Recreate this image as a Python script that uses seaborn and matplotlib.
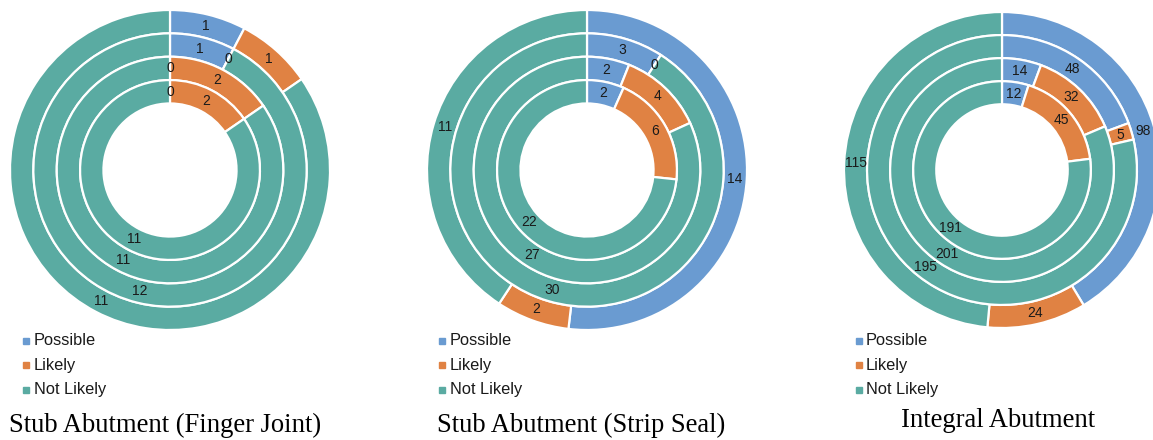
import matplotlib
matplotlib.use("Agg")
import matplotlib.pyplot as plt
from matplotlib.lines import Line2D
import numpy as np
import seaborn as sns

# Risk categories and their colours
categories = ["Possible", "Likely", "Not Likely"]
category_colors = ["#6A9BD1", "#E08243", "#5AABA2"]

# Each abutment type: four rings, outer to inner, values per category
finger_joint = [
    [1, 1, 11],
    [1, 0, 12],
    [0, 2, 11],
    [0, 2, 11],
]
strip_seal = [
    [14, 2, 11],
    [3, 0, 30],
    [2, 4, 27],
    [2, 6, 22],
]
integral = [
    [98, 24, 115],
    [48, 5, 195],
    [14, 32, 201],
    [12, 45, 191],
]

panel_titles = [
    "Stub Abutment (Finger Joint)",
    "Stub Abutment (Strip Seal)",
    "Integral Abutment",
]
panel_data = [finger_joint, strip_seal, integral]

sns.set_theme(style="white")
plt.rcParams["font.family"] = ["Liberation Sans", "DejaVu Sans"]

W, H = 1153, 440
fig = plt.figure(figsize=(W / 100, H / 100), dpi=100)
fig.patch.set_facecolor("white")

# pixel geometry of each panel: centre x, centre y (from top), outer radius
centers = [(170, 170, 160), (587, 170, 160), (1002, 170, 158)]
legend_x = [(25.5, 34), (441.5, 450), (858.5, 866)]
title_pos = [(165, 425), (581, 425), (998, 420)]

ring_width = 0.146
ring_outer = [1.0, 1.0 - ring_width, 1.0 - 2 * ring_width, 1.0 - 3 * ring_width]

for (cx, cy, r), rings, title, (mx, tx), (ttx, tty) in zip(
        centers, panel_data, panel_titles, legend_x, title_pos):
    ax = fig.add_axes([(cx - r) / W, (H - cy - r) / H, 2 * r / W, 2 * r / H])
    ax.set_xlim(-1, 1)
    ax.set_ylim(-1, 1)
    ax.set_aspect("equal")
    ax.axis("off")

    for values, rad in zip(rings, ring_outer):
        wedges, _ = ax.pie(
            values,
            radius=rad,
            startangle=90,
            counterclock=False,
            colors=category_colors,
            wedgeprops=dict(width=ring_width, edgecolor="white", linewidth=1.6),
        )
        for wdg, v in zip(wedges, values):
            ang = np.deg2rad((wdg.theta1 + wdg.theta2) / 2)
            rr = wdg.r - wdg.width / 2
            ax.text(rr * np.cos(ang), rr * np.sin(ang), str(v),
                    ha="center", va="center", fontsize=10, color="#1a1a1a")
        ax.set_xlim(-1, 1)
        ax.set_ylim(-1, 1)

    # legend with small square swatches
    for k, (name, col) in enumerate(zip(categories, category_colors)):
        yy = 340.5 + k * 24.7
        fig.add_artist(Line2D([mx / W], [(H - yy) / H], marker="s",
                              markersize=4.3, color=col, linestyle="none",
                              transform=fig.transFigure))
        fig.text(tx / W, (H - yy) / H, name, ha="left", va="center",
                 fontsize=11.8, color="#1a1a1a")

    fig.text(ttx / W, (H - tty) / H, title, ha="center", va="center",
             fontsize=19.2, family=["Liberation Serif", "DejaVu Serif"],
             color="black")

fig.savefig("out.png", dpi=100, facecolor="white")
